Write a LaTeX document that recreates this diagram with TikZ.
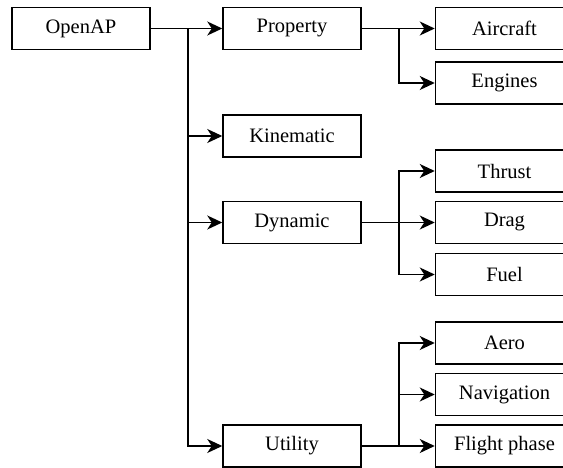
\documentclass[tikz,border=0pt]{standalone}
\usepackage{fontspec}
\setmainfont{Liberation Serif}
\newfontfamily\boxfont{Liberation Serif}
\usetikzlibrary{arrows.meta}
\begin{document}
\begin{tikzpicture}[x=1pt,y=-1pt,
  box/.style={draw, line width=1.5pt, minimum width=138pt, minimum height=42pt, inner sep=0pt, font=\boxfont\fontsize{20.5}{24}\selectfont},
  arr/.style={line width=1.5pt, -{Stealth[length=15pt,width=14pt,inset=4.5pt]}}]
\clip (0,0) rectangle (563,468);
\fill[white] (0,0) rectangle (563,468);
\node[box] (openap) at (81,28.5) {OpenAP};
\node[box] (property) at (292,28.5) {Property};
\node[box] (kinematic) at (292,136) {Kinematic};
\node[box] (dynamic) at (292,222.5) {Dynamic};
\node[box] (utility) at (292,446) {Utility};
\node[box] (aircraft) at (504.5,28.5) {Aircraft};
\node[box] (engines) at (504.5,83) {Engines};
\node[box] (thrust) at (504.5,171) {Thrust};
\node[box] (drag) at (504.5,222.5) {Drag};
\node[box] (fuel) at (504.5,274.5) {Fuel};
\node[box] (aero) at (504.5,343) {Aero};
\node[box] (navigation) at (504.5,394.5) {Navigation};
\node[box] (flight) at (504.5,446) {Flight phase};
\coordinate (j1) at (188,28.5);
\coordinate (j2) at (399,28.5);
\coordinate (j3) at (399,222.5);
\coordinate (j4) at (399,446);
\draw[arr] (openap) -- (property);
\draw[arr] (j1) |- (kinematic.west);
\draw[arr] (j1) |- (dynamic.west);
\draw[arr] (j1) |- (utility.west);
\draw[arr] (property) -- (aircraft);
\draw[arr] (j2) |- (engines.west);
\draw[arr] (dynamic) -- (drag);
\draw[arr] (j3) |- (thrust.west);
\draw[arr] (j3) |- (fuel.west);
\draw[arr] (utility) -- (flight);
\draw[arr] (j4) |- (aero.west);
\draw[arr] (j4) |- (navigation.west);
\end{tikzpicture}
\end{document}
